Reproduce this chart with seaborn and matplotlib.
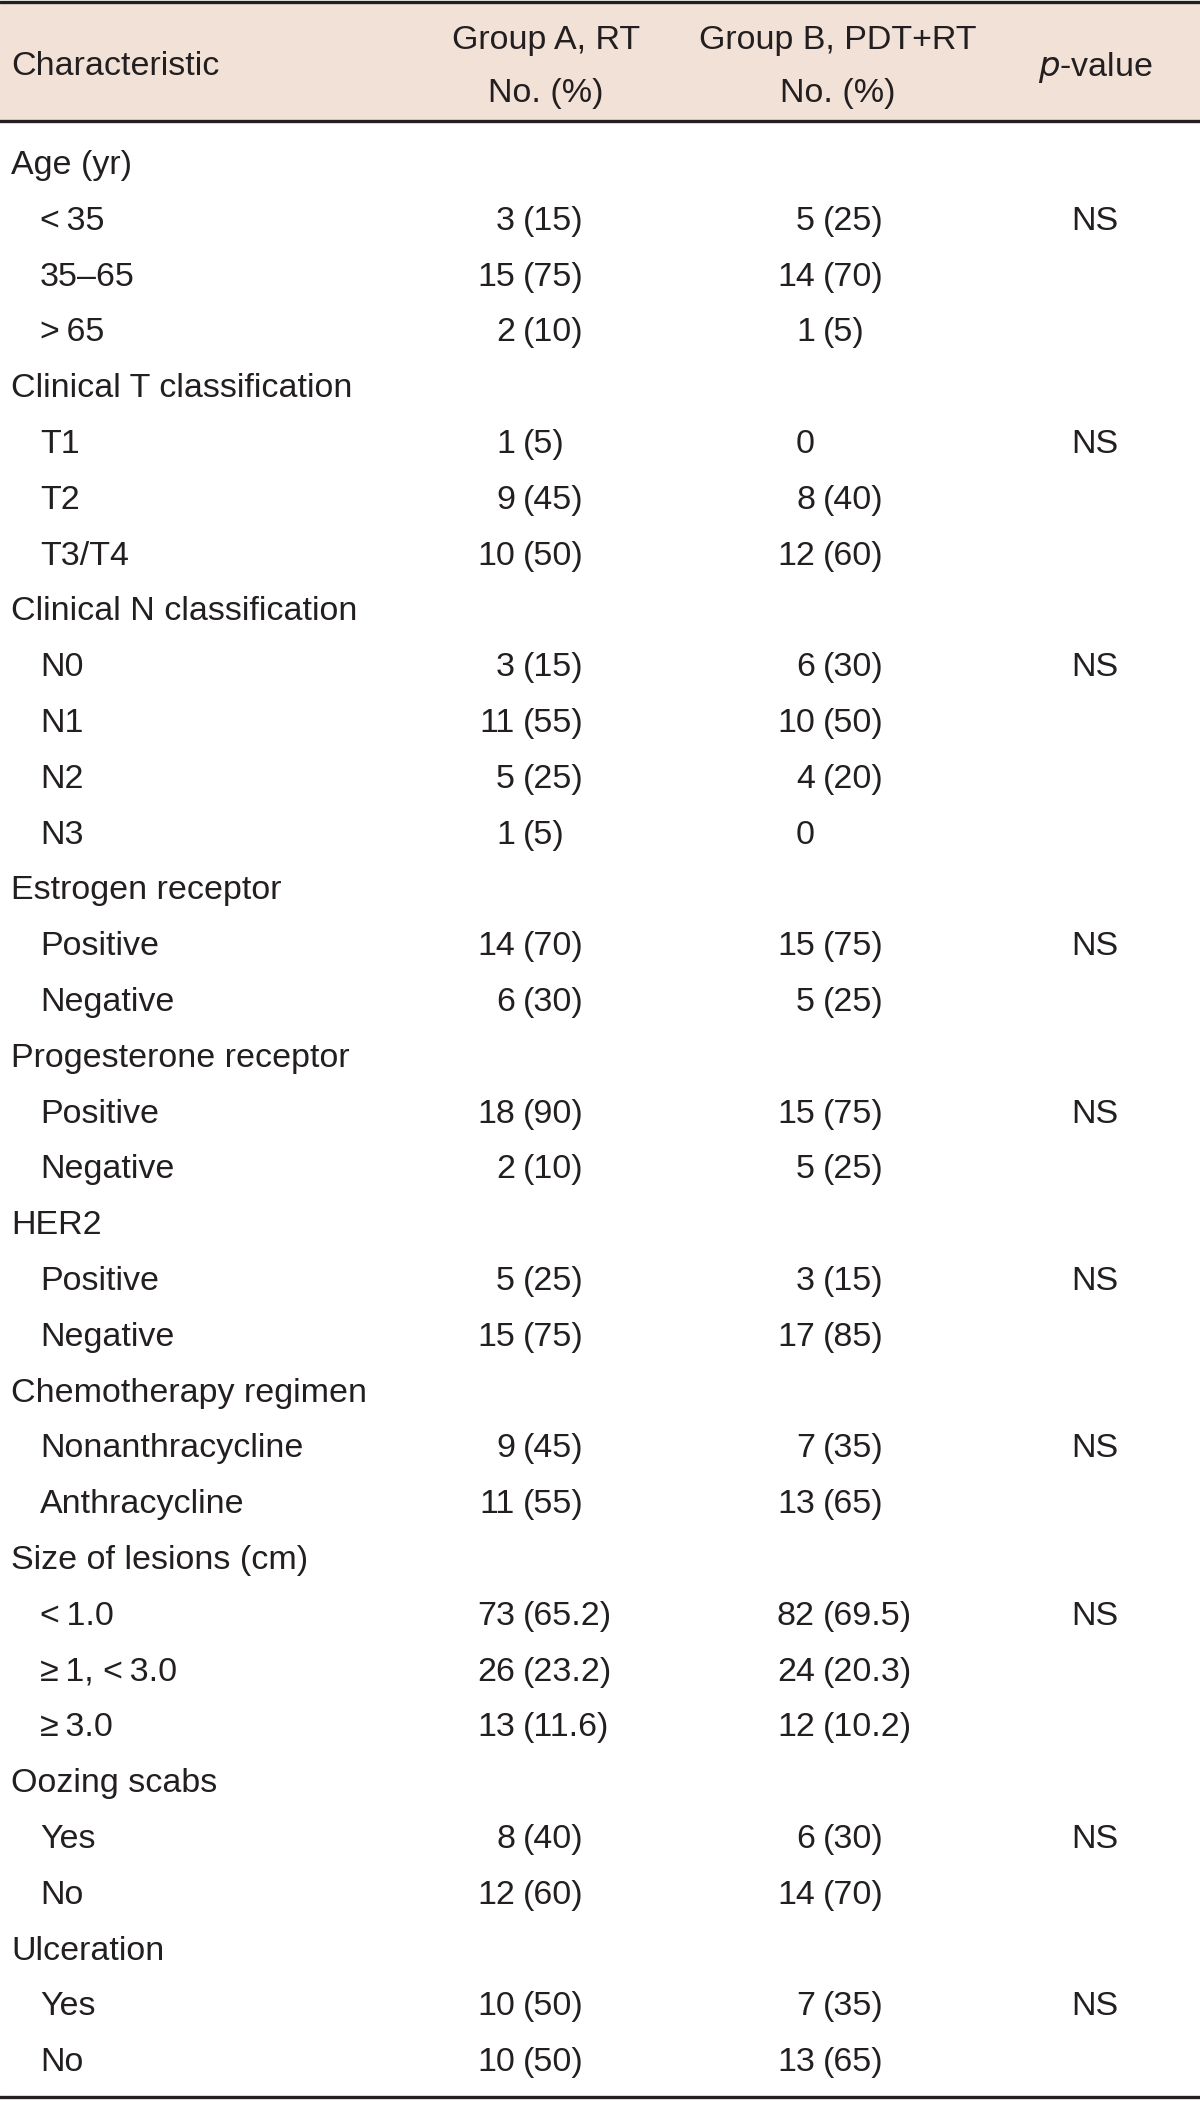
import matplotlib
matplotlib.use("Agg")
import matplotlib.pyplot as plt
import seaborn as sns

# ── data ──
row_labels = [
    "Age (yr)", "<\u200935", "35\u201365", ">\u200965",
    "Clinical T classification", "T1", "T2", "T3/T4",
    "Clinical N classification", "N0", "N1", "N2", "N3",
    "Estrogen receptor", "Positive", "Negative",
    "Progesterone receptor", "Positive", "Negative",
    "HER2", "Positive", "Negative",
    "Chemotherapy regimen", "Nonanthracycline", "Anthracycline",
    "Size of lesions (cm)", "<\u20091.0", "\u2265\u20091, <\u20093.0", "\u2265\u20093.0",
    "Oozing scabs", "Yes", "No",
    "Ulceration", "Yes", "No",
]
row_level = [0, 1, 1, 1,
             0, 1, 1, 1,
             0, 1, 1, 1, 1,
             0, 1, 1,
             0, 1, 1,
             0, 1, 1,
             0, 1, 1,
             0, 1, 1, 1,
             0, 1, 1,
             0, 1, 1]
group_a = ["", "3 (15)", "15 (75)", "2 (10)",
           "", "1 (5)", "9 (45)", "10 (50)",
           "", "3 (15)", "11 (55)", "5 (25)", "1 (5)",
           "", "14 (70)", "6 (30)",
           "", "18 (90)", "2 (10)",
           "", "5 (25)", "15 (75)",
           "", "9 (45)", "11 (55)",
           "", "73 (65.2)", "26 (23.2)", "13 (11.6)",
           "", "8 (40)", "12 (60)",
           "", "10 (50)", "10 (50)"]
group_b = ["", "5 (25)", "14 (70)", "1 (5)",
           "", "0", "8 (40)", "12 (60)",
           "", "6 (30)", "10 (50)", "4 (20)", "0",
           "", "15 (75)", "5 (25)",
           "", "15 (75)", "5 (25)",
           "", "3 (15)", "17 (85)",
           "", "7 (35)", "13 (65)",
           "", "82 (69.5)", "24 (20.3)", "12 (10.2)",
           "", "6 (30)", "14 (70)",
           "", "7 (35)", "13 (65)"]
p_values = ["", "NS", "", "",
            "", "NS", "", "",
            "", "NS", "", "", "",
            "", "NS", "",
            "", "NS", "",
            "", "NS", "",
            "", "NS", "",
            "", "NS", "", "",
            "", "NS", "",
            "", "NS", ""]

# ── style ──
sns.set_theme(style="white")
plt.rcParams["font.family"] = ["Liberation Sans", "DejaVu Sans"]
INK = "#231f20"
HEAD_BG = "#f2e1d7"
FS = 24.5

W, H = 1200, 2101
fig = plt.figure(figsize=(W / 100, H / 100), dpi=100)
ax = fig.add_axes([0, 0, 1, 1])
ax.set_xlim(0, W)
ax.set_ylim(H, 0)
ax.axis("off")

# header band + rules
ax.axhspan(2, 121, color=HEAD_BG, lw=0)
for y in (2, 121, 2097):
    ax.axhline(y, color=INK, lw=2.4)

kw = dict(fontsize=FS, color=INK, va="center_baseline")
ax.text(11, 63, "Characteristic", ha="left", **kw)
ax.text(546, 37, "Group A, RT", ha="center", **kw)
ax.text(546, 90, "No. (%)", ha="center", **kw)
ax.text(838, 37, "Group B, PDT+RT", ha="center", **kw)
ax.text(838, 90, "No. (%)", ha="center", **kw)
ax.text(1095, 63, r"$\it{p}$" + "-value", ha="center", **kw)


def put_value(x_split, y, val):
    if not val:
        return
    parts = val.split(" ", 1)
    ax.text(x_split, y, parts[0], ha="right", **kw)
    if len(parts) > 1:
        ax.text(x_split + 8, y, parts[1], ha="left", **kw)


y0, step = 162, 55.8
for i, label in enumerate(row_labels):
    y = y0 + i * step
    x = 11 if row_level[i] == 0 else 40
    ax.text(x, y, label, ha="left", **kw)
    put_value(515, y, group_a[i])
    put_value(815, y, group_b[i])
    if p_values[i]:
        ax.text(1095, y, p_values[i], ha="center", **kw)

fig.savefig("out.png", dpi=100, facecolor="white")
